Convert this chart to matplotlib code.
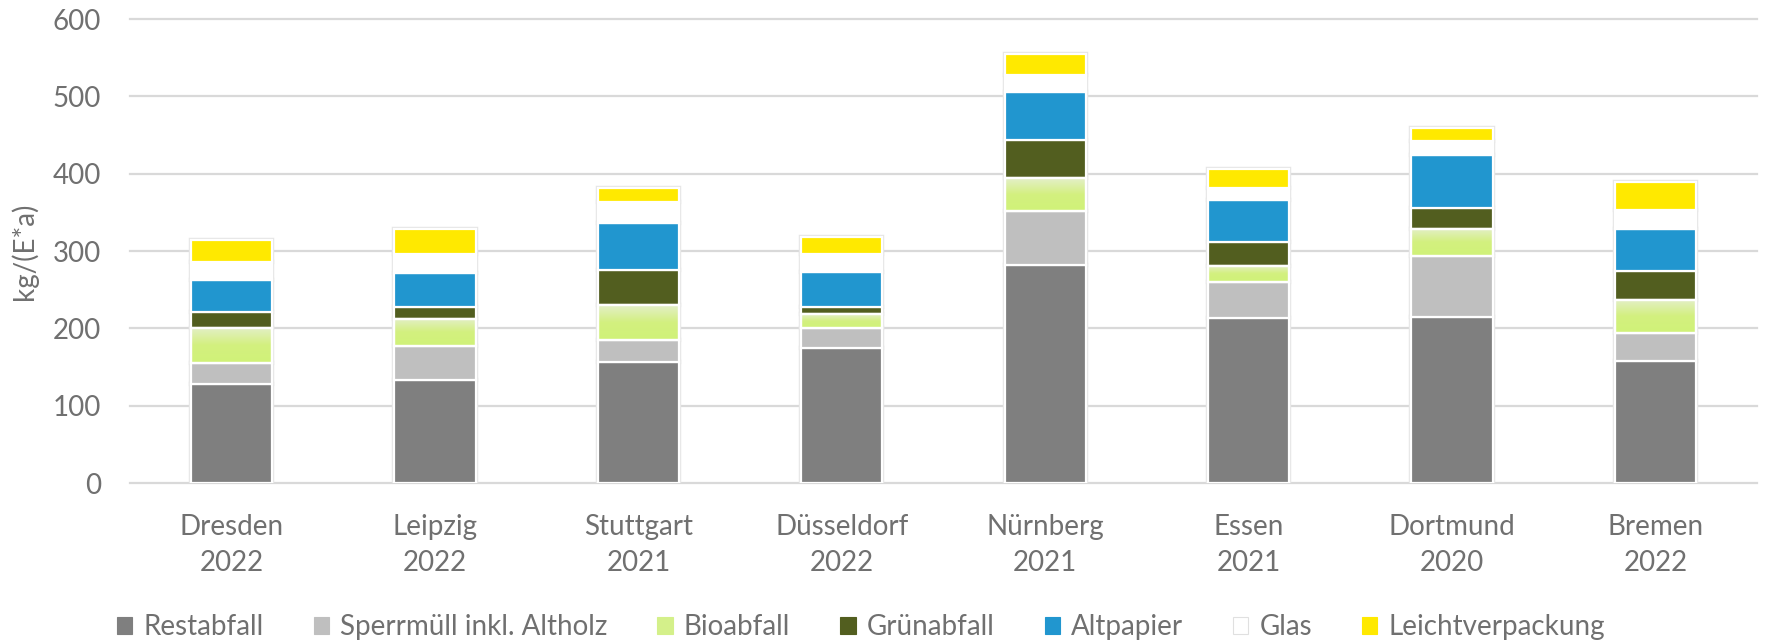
import numpy as np
import matplotlib
matplotlib.use("Agg")
import matplotlib.pyplot as plt
from matplotlib.colors import LinearSegmentedColormap
from matplotlib.patches import Patch

plt.rcParams['font.family'] = ['Lato', 'DejaVu Sans']

cities = ["Dresden", "Leipzig", "Stuttgart", "Düsseldorf", "Nürnberg", "Essen", "Dortmund", "Bremen"]
years = ["2022", "2022", "2021", "2022", "2021", "2021", "2020", "2022"]

restabfall    = [128, 133, 157, 174, 282, 214, 215, 158]
sperrmuell    = [27, 44, 28, 26, 70, 46, 78, 36]
bioabfall     = [46, 35, 45, 18, 42, 21, 35, 43]
gruenabfall   = [20, 16, 46, 9, 49, 30, 27, 37]
altpapier     = [42, 44, 60, 46, 62, 55, 69, 55]
glas          = [23, 24, 28, 23, 23, 16, 18, 24]
leichtverp    = [28, 33, 18, 22, 27, 24, 17, 36]

series_names = ["Restabfall", "Sperrmüll inkl. Altholz", "Bioabfall", "Grünabfall",
                "Altpapier", "Glas", "Leichtverpackung"]
series_vals = [restabfall, sperrmuell, bioabfall, gruenabfall, altpapier, glas, leichtverp]
colors = ["#7f7f7f", "#bfbfbf", "#d4f08a", "#525e1f", "#2196cf", "#ffffff", "#ffe900"]

TXT = "#707070"
W, H = 1767, 641
fig = plt.figure(figsize=(W/100, H/100), dpi=100)
ax = fig.add_axes([130/W, 1-483/H, (1757-130)/W, (483-19)/H])

x = np.arange(len(cities))
width = 0.4
ax.set_xlim(-0.5, len(cities)-0.5)
ax.set_ylim(0, 600)

for yv in range(0, 601, 100):
    ax.axhline(yv, color="#d9d9d9", lw=1.6, zorder=0, clip_on=False)

bio_cmap = LinearSegmentedColormap.from_list("bio", ["#d0f278", "#d3f07f", "#e4efc9"])
grad = np.linspace(0, 1, 256).reshape(-1, 1)

bottom = np.zeros(len(cities))
for name, vals, col in zip(series_names, series_vals, colors):
    vals = np.array(vals, dtype=float)
    # soft outline
    ax.bar(x, vals, width, bottom=bottom, color=col, edgecolor="#e6e6e6", lw=3.2, zorder=1.8)
    if name == "Bioabfall":
        bars = ax.bar(x, vals, width, bottom=bottom, color="none", edgecolor="white", lw=1.6, zorder=2.3)
        for b in bars:
            x0 = b.get_x(); y0 = b.get_y()
            im = ax.imshow(grad, cmap=bio_cmap, aspect="auto", origin="lower",
                           extent=[x0, x0 + b.get_width(), y0, y0 + b.get_height()], zorder=2.1)
            im.set_clip_path(b)
        ax.bar(x, vals, width, bottom=bottom, color="none", edgecolor="white", lw=1.6, zorder=2.4)
    else:
        ax.bar(x, vals, width, bottom=bottom, color=col, edgecolor="white", lw=1.6, zorder=2)
    bottom += vals

ax.set_xlim(-0.5, len(cities)-0.5)
ax.set_ylim(0, 600)

for s in ax.spines.values():
    s.set_visible(False)
ax.set_yticks(range(0, 601, 100))
ax.tick_params(axis="y", length=0, pad=21, labelsize=20, labelcolor=TXT)
ax.set_xticks(x)
ax.set_xticklabels([f"{c}\n{y}" for c, y in zip(cities, years)], linespacing=1.5)
ax.tick_params(axis="x", length=0, pad=22, labelsize=20, labelcolor=TXT)
ax.set_ylabel("kg/(E*a)", fontsize=20, color=TXT)
ax.yaxis.set_label_coords(-(130-38)/(1757-130), 0.5)

handles = []
for name, col in zip(series_names, colors):
    ec = "#e0e0e0" if col == "#ffffff" else col
    handles.append(Patch(facecolor=col, edgecolor=ec, lw=0.8, label=name))
leg = fig.legend(handles=handles, loc="center", bbox_to_anchor=(861/W, 1-627/H), ncol=7,
                 frameon=False, fontsize=20, handlelength=0.55, handleheight=0.55,
                 handletextpad=0.4, columnspacing=1.8, labelcolor=TXT)

fig.savefig("out.png", dpi=100)
